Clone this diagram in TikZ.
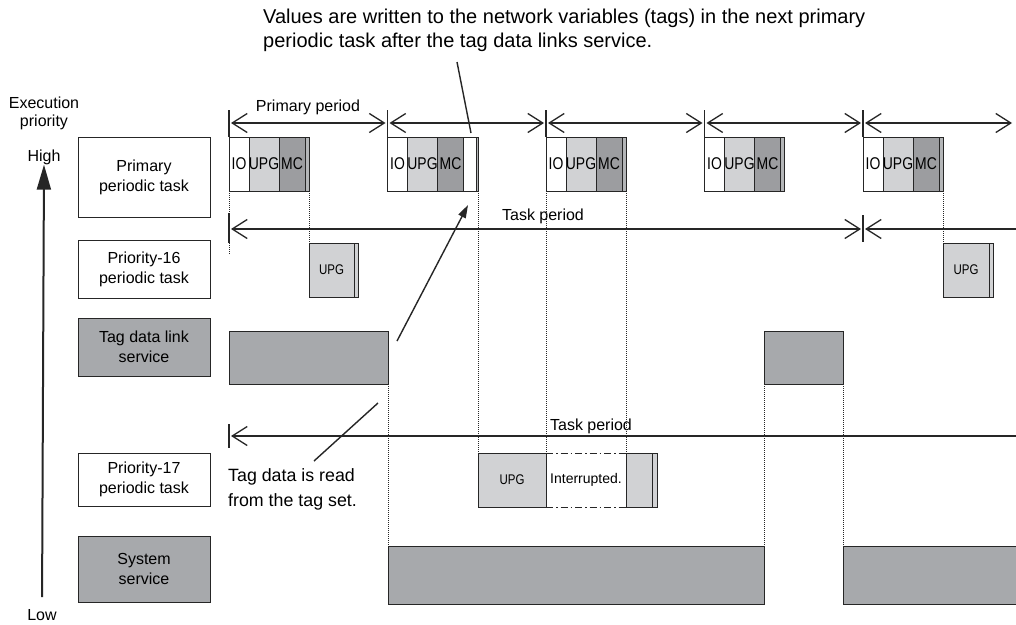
\documentclass[tikz,border=0pt]{standalone}
\usepackage{fontspec}
\setmainfont{Liberation Sans}
\newfontfamily\nf[FakeStretch=0.82]{Liberation Sans}
\usetikzlibrary{arrows.meta}
\definecolor{lg}{HTML}{D1D2D4}
\definecolor{mg}{HTML}{9C9DA0}
\definecolor{sg}{HTML}{A7A9AC}
\definecolor{ln}{HTML}{262626}
\newcommand\primblock[2]{%
  \node[cell,fill=white,minimum width=20pt] (#1io) at (#2,137) {\makebox[0pt]{IO}};
  \node[cell,fill=lg,minimum width=30pt] (#1upg) at (#1io.north east) {\makebox[0pt]{UPG}};
  \node[cell,fill=mg,minimum width=26pt] (#1mc) at (#1upg.north east) {\makebox[0pt]{MC}};
  \node[stripbox,minimum width=4pt] (#1st) at (#1mc.north east) {};}
\begin{document}
\begin{tikzpicture}[x=1pt,y=-1pt,
  lab/.style={draw=ln, line width=0.8pt, fill=white, inner sep=0pt, outer sep=0pt, anchor=north west, minimum width=132pt, align=center, font=\fontsize{16}{20}\selectfont},
  labg/.style={lab, fill=sg},
  cell/.style={draw=ln, line width=0.8pt, inner sep=0pt, outer sep=0pt, anchor=north west, minimum height=54pt, font=\nf\fontsize{17}{17}\selectfont},
  stripbox/.style={cell, fill=sg!85},
  per/.style={draw=ln, line width=1.3pt, {Straight Barb[length=15pt,width=19pt]}-{Straight Barb[length=15pt,width=19pt]}, shorten <=2pt, shorten >=2pt},
  perl/.style={draw=ln, line width=1.3pt, {Straight Barb[length=15pt,width=19pt]}-, shorten <=2pt},
  tick/.style={draw=ln, line width=1.3pt},
  dots/.style={draw=ln, line width=0.9pt, dash pattern=on 1pt off 1pt},
  ddot/.style={draw=ln, line width=0.9pt, dash pattern=on 7pt off 3pt on 1.5pt off 3pt},
  txt/.style={inner sep=0pt, font=\fontsize{16}{18}\selectfont, align=center},
  ann/.style={draw=ln, line width=1.4pt}]
\useasboundingbox (0,0) rectangle (1016,624);
\fill[white] (0,0) rectangle (1016,624);

% notes
\node[inner sep=0pt, anchor=north west, align=left, font=\fontsize{20}{24}\selectfont] (topnote) at (263,9)
  {Values are written to the network variables (tags) in the next primary\\periodic task after the tag data links service.};
\node[inner sep=0pt, anchor=north west, align=left, font=\fontsize{17.8}{25}\selectfont] (readnote) at (228,468)
  {Tag data is read\\from the tag set.};

% priority axis
\node[txt] (exe) at (44,113) {Execution\\priority};
\node[txt] (high) at (44,157) {High};
\node[txt] (low) at (42,615) {Low};
\draw[draw=ln, line width=2pt, -{Triangle[length=25pt,width=14pt]}, shorten <=12pt] (low.north) -- (high.south);

% left labels
\node[lab, minimum height=80pt] (Lp) at (78,137) {Primary\\periodic task};
\node[lab, minimum height=58pt] (L16) at (78,240) {Priority-16\\periodic task};
\node[labg, minimum height=58pt] (Ltag) at (78,318) {Tag data link\\service};
\node[lab, minimum height=53pt] (L17) at (78,453) {Priority-17\\periodic task};
\node[labg, minimum height=66pt] (Lsys) at (78,536) {System\\service};

% primary period ticks and arrows
\foreach \i/\x in {0/229,1/387.5,2/546,3/704.5,4/863} {
  \coordinate (T\i) at (\x,123);
  \draw[tick] (\x,110) -- (\x,137);
}
\coordinate (T5) at (1014,123);
\draw[per] (T0) -- (T1);
\draw[per] (T1) -- (T2);
\draw[per] (T2) -- (T3);
\draw[per] (T3) -- (T4);
\draw[per] (T4) -- (T5);
\node[txt] (pplab) at (308,107) {Primary period};

% primary periodic task blocks
\primblock{a}{229}
\node[cell,fill=white,minimum width=20pt] (bio) at (387.5,137) {\makebox[0pt]{IO}};
\node[cell,fill=lg,minimum width=30pt] (bupg) at (bio.north east) {\makebox[0pt]{UPG}};
\node[cell,fill=mg,minimum width=26pt] (bmc) at (bupg.north east) {\makebox[0pt]{MC}};
\node[cell,fill=white,minimum width=12.5pt] (bwh) at (bmc.north east) {};
\node[stripbox,minimum width=2pt] (bst) at (bwh.north east) {};
\primblock{c}{546}
\primblock{d}{704.5}
\primblock{e}{863}

% task period (priority-16)
\coordinate (P0) at (229,229);
\coordinate (P1) at (863,229);
\coordinate (P2) at (1016,229);
\draw[tick] (229,213) -- (229,243);
\draw[tick] (863,215) -- (863,242);
\draw[per] (P0) -- (P1);
\draw[perl] (P1) -- (P2);
\node[txt] (tplab1) at (543,216) {Task period};

% priority-16 task
\node[cell, fill=lg, minimum width=45pt, font=\nf\fontsize{14}{14}\selectfont] (u16a) at (309,243) {UPG};
\node[cell, fill=lg, minimum width=4pt] (u16as) at (u16a.north east) {};
\node[cell, fill=lg, minimum width=46pt, font=\nf\fontsize{14}{14}\selectfont] (u16b) at (943,243) {UPG};
\node[cell, fill=lg, minimum width=4pt] (u16bs) at (u16b.north east) {};

% tag data link service
\node[cell, fill=sg, minimum width=159pt, minimum height=53pt] (tagA) at (229,331) {};
\node[cell, fill=sg, minimum width=79pt, minimum height=53pt] (tagB) at (764,331) {};

% task period (priority-17)
\coordinate (Q0) at (229,436);
\coordinate (Q1) at (1016,436);
\draw[tick] (229,424) -- (229,448);
\draw[perl] (Q0) -- (Q1);
\node[txt] (tplab2) at (591,426) {Task period};

% priority-17 task
\node[cell, fill=lg, minimum width=68pt, font=\nf\fontsize{14}{14}\selectfont] (u17) at (478,453) {UPG};
\node[cell, fill=lg, minimum width=26pt] (r17) at (626,453) {};
\node[cell, fill=lg, minimum width=5pt] (r17s) at (r17.north east) {};
\node[inner sep=0pt, font=\fontsize{14}{14}\selectfont] (intr) at (586,480) {Interrupted.};
\draw[ddot] (u17.north east) -- (r17.north west);
\draw[ddot] (u17.south east) -- (r17.south west);

% system service
\node[cell, fill=sg, minimum width=376pt, minimum height=58pt] (sysA) at (388,546) {};
\node[cell, fill=sg, minimum width=174pt, minimum height=58pt] (sysB) at (843,546) {};

% dotted guide lines
\draw[dots] (aio.south west) -- ++(0,64);
\draw[dots] (ast.south east) -- (u16a.north west);
\draw[dots] (bst.south east) -- (u17.north west);
\draw[dots] (cio.south west) -- (u17.north east);
\draw[dots] (cst.south east) -- (r17.north west);
\draw[dots] (est.south east) -- (u16b.north west);
\draw[dots] (tagA.south east) -- (sysA.north west);
\draw[dots] (tagB.south west) -- (sysA.north east);
\draw[dots] (tagB.south east) -- (sysB.north west);

% annotation lines
\coordinate (n1) at (457,62);
\coordinate (n2) at (471,133);
\draw[ann] (n1) -- (n2);
\coordinate (m1) at (397,341);
\coordinate (m2) at (468,205);
\draw[ann, -{Triangle[length=13pt,width=8pt]}] (m1) -- (m2);
\coordinate (k1) at (314,461);
\coordinate (k2) at (378,403);
\draw[ann] (k1) -- (k2);
\end{tikzpicture}
\end{document}
